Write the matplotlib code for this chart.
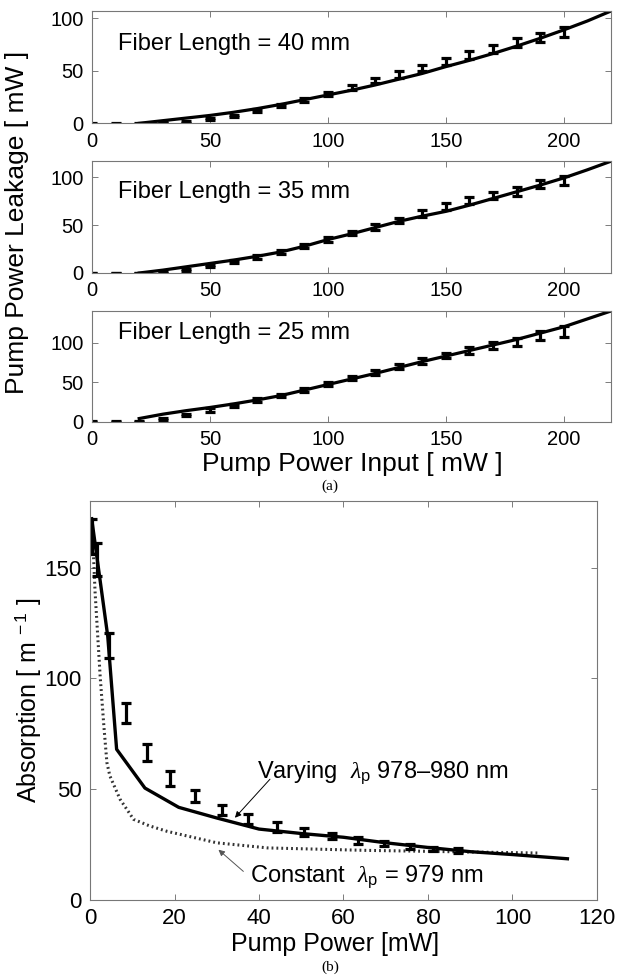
import matplotlib
matplotlib.use("Agg")
import matplotlib.pyplot as plt

plt.rcParams["font.family"] = ["Liberation Sans", "DejaVu Sans"]
plt.rcParams["mathtext.fontset"] = "custom"
plt.rcParams["mathtext.rm"] = "Liberation Sans"
plt.rcParams["mathtext.it"] = "Liberation Serif:italic"

# ---- (a) pump leakage vs pump input ----
pump_in = [0, 10, 20, 30, 40, 50, 60, 70, 80, 90, 100,
           110, 120, 130, 140, 150, 160, 170, 180, 190, 200]
leak_40 = [0, 0, 0, 1, 1.5, 3.8, 7, 12.5, 17, 22, 28,
           34, 40.5, 46.5, 53, 59, 65, 71, 77, 82, 87]
err_40 = [0.5, 0.5, 0.5, 0.5, 0.8, 1, 1.2, 1.5, 1.5, 1.8, 2,
          2.2, 2.5, 3, 3, 3.5, 3.5, 4, 4, 4.5, 5]
leak_35 = [0, 0, 0, 0.7, 2.8, 7, 12, 16.7, 21.6, 28, 35,
           41.8, 48, 55, 62, 69.5, 76, 81, 85.5, 93, 97]
err_35 = [0.5, 0.5, 0.5, 0.8, 1, 1.2, 1.5, 1.8, 2, 2, 2.5,
          2.5, 3, 3, 3.5, 3.5, 4, 4, 4.5, 4.5, 5]
leak_25 = [0, 0, 0, 3.4, 8.5, 14.8, 20.3, 27.5, 33, 40, 47.7,
           55, 62, 69.6, 76.8, 83.5, 90, 96.2, 101, 109, 114]
err_25 = [0.5, 0.5, 0.8, 1, 1.5, 2, 2, 2, 2, 2.5, 2.5,
          2.5, 3, 3.5, 3.5, 3.5, 4, 4, 5, 5.5, 6.5]

fit_x = [20, 30, 40, 50, 60, 70, 80, 90, 100, 110, 120,
         130, 140, 150, 160, 170, 180, 190, 200, 210, 220]
fit_40 = [0, 2.5, 5, 7.5, 10.5, 14, 18, 22.5, 27, 31.5, 36.5,
          42, 47.5, 54, 60, 66.5, 73.5, 81, 89, 97.5, 107]
fit_35 = [0, 3, 6.5, 10, 13.5, 17.5, 22, 28, 35, 41, 47.5,
          54, 59.5, 64.5, 71, 78, 85, 92, 99.5, 108, 117]
fit_25 = [4, 9.5, 14, 18, 22.5, 27.5, 33, 40, 47, 54, 61,
          68.5, 76, 83, 90, 97, 104, 112, 120, 130, 140]

lengths = ["Fiber Length = 40 mm", "Fiber Length = 35 mm", "Fiber Length = 25 mm"]

# ---- (b) absorption vs pump power ----
meas_p = [0.5, 1.6, 4.4, 8.5, 13.4, 18.9, 24.9, 31.2, 37.5, 44.2,
          50.7, 57.2, 63.5, 69.7, 75.8, 81.3, 87]
meas_abs = [164, 153.6, 114.8, 84.5, 66.7, 54.9, 47, 40.5, 36.7, 33,
            30.7, 28.8, 26.9, 25.5, 24.2, 23.1, 22.4]
meas_err = [8, 7.5, 5.7, 4.5, 3.8, 3.4, 2.8, 2.2, 2.2, 2.2,
            1.9, 1.5, 1.5, 1.3, 1.2, 1.0, 1.0]

vary_p = [0.4, 4.2, 6.3, 13, 21, 30, 40, 50, 60, 70, 80, 90, 100, 113]
vary_abs = [172, 119, 68, 50.5, 41.8, 37, 32, 30, 28.3, 25.8, 23.7, 21.8, 20.5, 18.6]

const_p = [0.5, 1.2, 2.4, 3.3, 4.0, 4.7, 7.1, 10.3, 14, 18.2, 30, 42, 65, 85, 106]
const_abs = [170, 139, 101, 78, 62, 56, 45.5, 36.4, 33.5, 31, 25.8, 23.5, 22.4, 21.8, 21.2]

W, H = 624, 977
fig = plt.figure(figsize=(W / 100, H / 100), dpi=100)


def px_axes(l, r, t, b):
    return fig.add_axes([l / W, 1 - b / H, (r - l) / W, (b - t) / H])


def style(ax, size):
    for s in ax.spines.values():
        s.set_color("#777777")
        s.set_linewidth(0.8)
    ax.tick_params(direction="in", top=True, right=True, length=4,
                   width=0.6, color="#666666", labelsize=size, pad=6)


# (a) panels
rows = [(11, 123.3), (161.2, 273), (311, 421.7)]
series = [(leak_40, err_40, fit_40), (leak_35, err_35, fit_35), (leak_25, err_25, fit_25)]
text_y = [70, 79, 104]
for (t, b), (vals, errs, fit), label, ty in zip(rows, series, lengths, text_y):
    ax = px_axes(92, 611, t, b)
    ax.plot(fit_x, fit, color="black", lw=2.3)
    ax.errorbar(pump_in, vals, yerr=errs, fmt="none", ecolor="black",
                elinewidth=2.3, capsize=3.5, capthick=2.3)
    ax.set_xlim(0, 220)
    ax.set_ylim(0, fit[-1])
    ax.set_xticks([0, 50, 100, 150, 200])
    ax.set_yticks([0, 50, 100])
    style(ax, 14.5)
    ax.text(11, ty, label, fontsize=17, va="baseline", ha="left")

fig.text(17 / W, 1 - 222 / H, "Pump Power Leakage [ mW ]", rotation=90,
         ha="center", va="center", fontsize=19)
fig.text(352 / W, 1 - 471 / H, "Pump Power Input [ mW ]", ha="center",
         va="baseline", fontsize=19)
fig.text(330 / W, 1 - 490 / H, "(a)", ha="center", va="baseline",
         fontsize=11, family="Liberation Serif")

# (b) panel
axb = px_axes(90, 597, 501, 900)
axb.plot(const_p, const_abs, color="#333333", lw=2.2, linestyle=(0, (0.6, 1.0)))
axb.plot(vary_p, vary_abs, color="black", lw=2.4)
axb.errorbar(meas_p, meas_abs, yerr=meas_err, fmt="none", ecolor="black",
             elinewidth=2.3, capsize=3.5, capthick=2.3)
axb.set_xlim(0, 120)
axb.set_ylim(0, 180)
axb.set_xticks([0, 20, 40, 60, 80, 100, 120])
axb.set_yticks([0, 50, 100, 150])
style(axb, 16)

axb.text(39.5, 55.3, r"Varying  $\lambda_{\mathrm{p}}$ 978–980 nm",
         fontsize=17, va="baseline", ha="left")
axb.annotate("", xy=(34.3, 37.1), xytext=(42.6, 54.5),
             arrowprops=dict(arrowstyle="-|>", color="black", lw=0.7,
                             mutation_scale=9, shrinkA=0, shrinkB=0))
axb.text(37.9, 8.3, r"Constant  $\lambda_{\mathrm{p}}$ = 979 nm",
         fontsize=17, va="baseline", ha="left")
axb.annotate("", xy=(30.4, 22.7), xytext=(36.3, 12.9),
             arrowprops=dict(arrowstyle="-|>", color="#555555", lw=0.7,
                             mutation_scale=9, shrinkA=0, shrinkB=0))

fig.text(28 / W, 1 - 700 / H, r"Absorption [ m$^{\ -1}$ ]", rotation=90,
         ha="center", va="center", fontsize=18)
fig.text(335 / W, 1 - 951 / H, "Pump Power [mW]", ha="center",
         va="baseline", fontsize=18)
fig.text(330 / W, 1 - 971 / H, "(b)", ha="center", va="baseline",
         fontsize=11, family="Liberation Serif")

fig.savefig("out.png", dpi=100)
